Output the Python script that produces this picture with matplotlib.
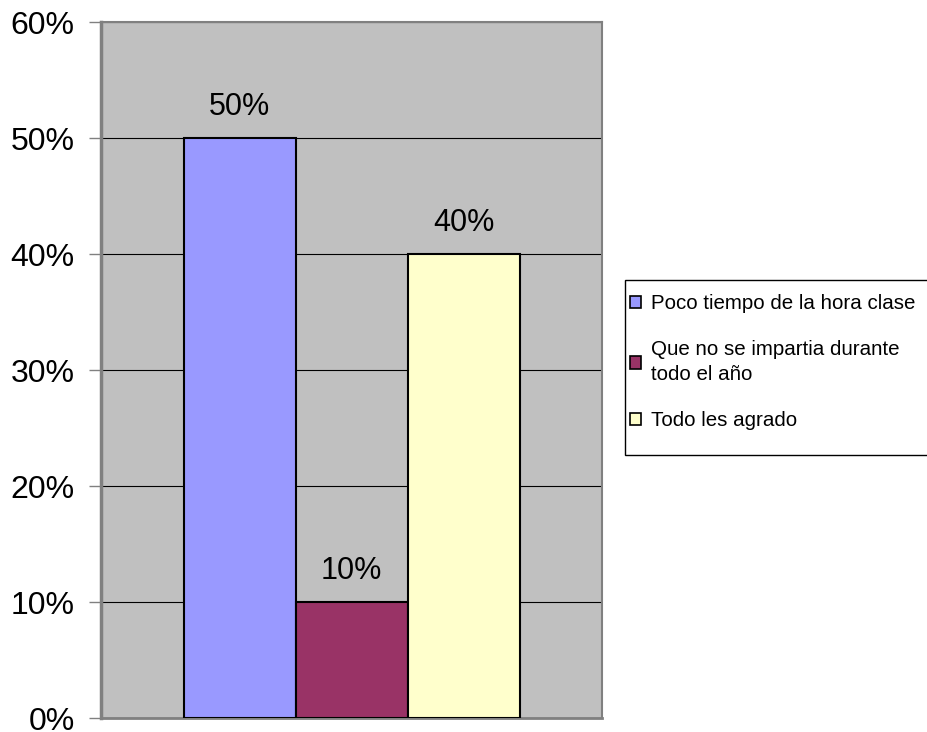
import numpy as np
import matplotlib.pyplot as plt
from matplotlib.patches import Patch, Rectangle
from matplotlib.ticker import FuncFormatter

plt.rcParams['font.family'] = ['Liberation Sans', 'DejaVu Sans']

categorias = ['Poco tiempo de la hora clase',
              'Que no se impartia durante\ntodo el año',
              'Todo les agrado']
valores = [0.50, 0.10, 0.40]
colores = ['#9999FF', '#993366', '#FFFFCC']
yticks = [0, 0.1, 0.2, 0.3, 0.4, 0.5, 0.6]

W, H = 927, 732
fig = plt.figure(figsize=(W / 100, H / 100), dpi=100)
ax = fig.add_axes([101/W, 1 - 718/H, 501/W, 696/H])
ax.set_facecolor('#C0C0C0')

w = 112 / 501
x = 0.5 + (np.arange(len(valores)) - 1) * w
ax.bar(x, valores, width=w, color=colores, edgecolor='black', linewidth=1.5, zorder=3)
for xi, v in zip(x, valores):
    ax.text(xi, v + 0.014, f'{v:.0%}', ha='center', va='bottom', fontsize=22, zorder=4)

ax.set_xlim(0, 1)
ax.set_ylim(0, 0.6)
ax.set_yticks(yticks)
ax.yaxis.set_major_formatter(FuncFormatter(lambda v, p: f'{v:.0%}'))
ax.grid(axis='y', color='black', linewidth=0.8, zorder=1)
ax.set_xticks([])
ax.tick_params(axis='y', length=9, width=1, color='#808080', labelsize=23, pad=10)
for s in ['top', 'right']:
    ax.spines[s].set_color('#808080')
    ax.spines[s].set_linewidth(1.5)
ax.spines['left'].set_color('#808080')
ax.spines['left'].set_linewidth(2.5)
ax.spines['bottom'].set_color('#808080')
ax.spines['bottom'].set_linewidth(2)

# legend frame runs off the right edge, as in the original
fig.patches.append(Rectangle((625/W, 1 - 455/H), 320/W, 175/H, transform=fig.transFigure,
                             facecolor='white', edgecolor='black', linewidth=1))
handles = [Patch(facecolor=c, edgecolor='black', linewidth=1.2) for c in colores]
leg = fig.legend(handles, categorias, loc='upper left',
                 bbox_to_anchor=(630/W, 1 - 294/H), fontsize=14.8,
                 frameon=False, handlelength=0.55, handleheight=0.55,
                 handletextpad=0.45, labelspacing=1.3, borderpad=0, borderaxespad=0)
for t in leg.get_texts():
    t.set_linespacing(1.45)

plt.savefig('out.png', dpi=100)
